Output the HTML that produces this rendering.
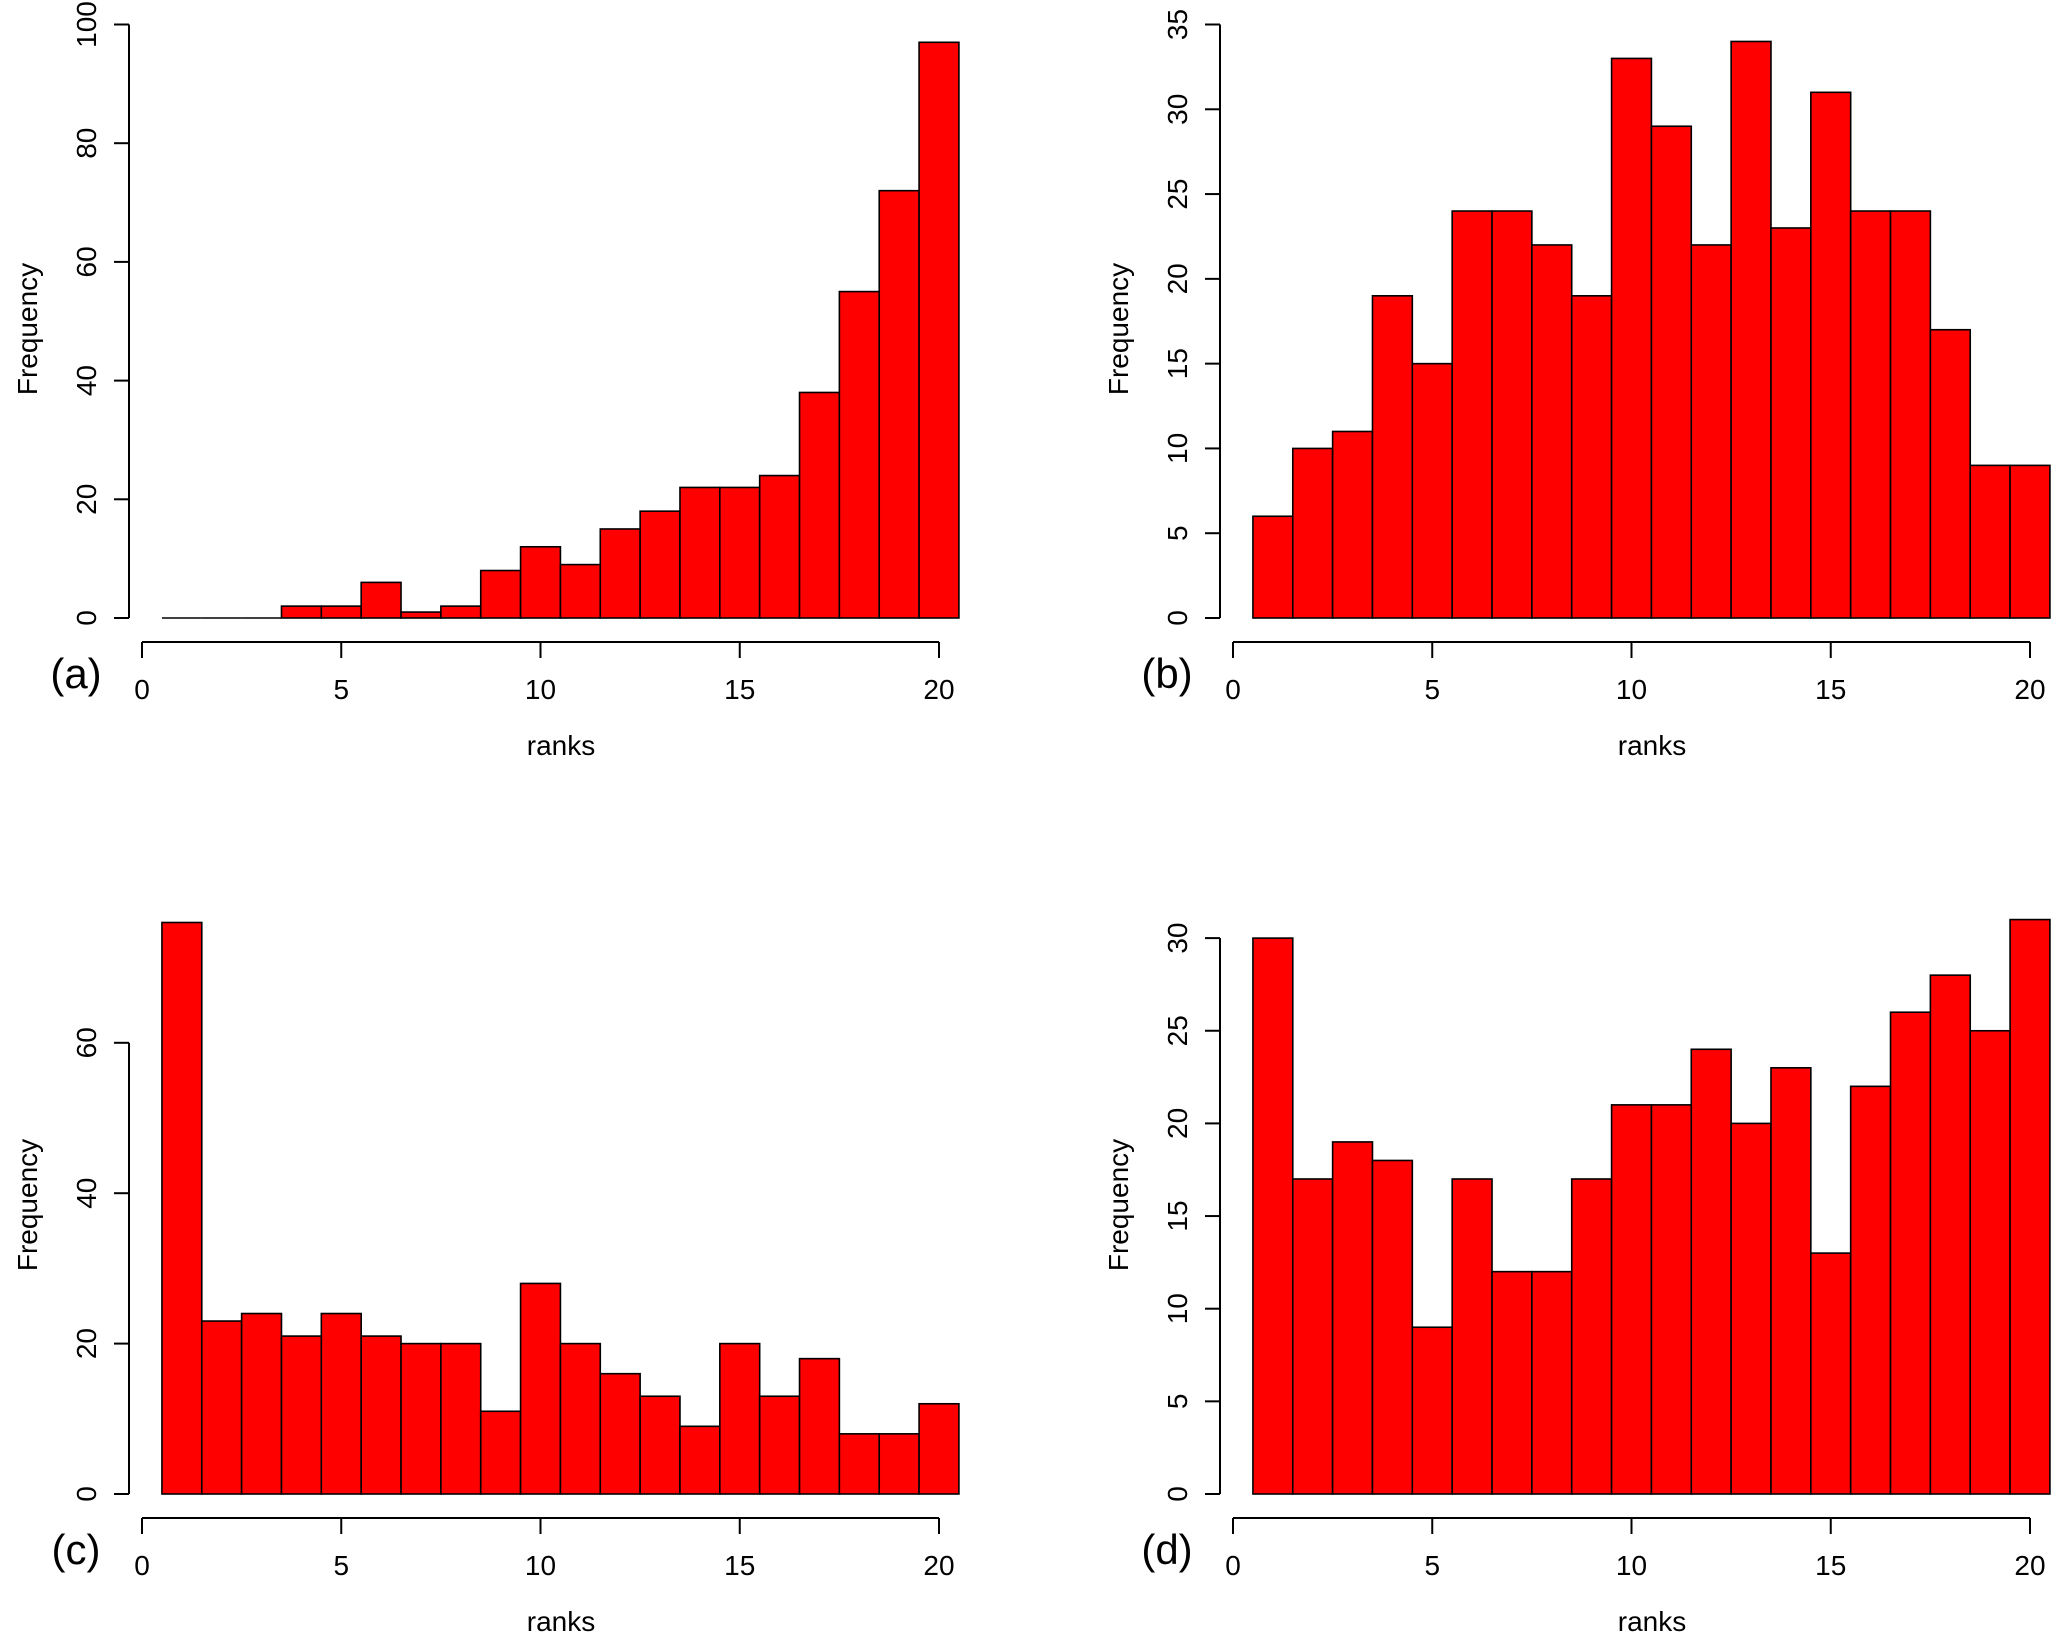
<!DOCTYPE html>
<html><head><meta charset="utf-8"><style>
html,body{margin:0;padding:0;background:#fff;}
svg{display:block;font-family:"Liberation Sans",Arial,sans-serif;}
</style></head><body>
<svg id="chart" width="2067" height="1641" viewBox="0 0 2067 1641"></svg>
<script>
const ranks = [1,2,3,4,5,6,7,8,9,10,11,12,13,14,15,16,17,18,19,20];
const countsA = [0,0,0,2,2,6,1,2,8,12,9,15,18,22,22,24,38,55,72,97];
const countsB = [6,10,11,19,15,24,24,22,19,33,29,22,34,23,31,24,24,17,9,9];
const countsC = [76,23,24,21,24,21,20,20,11,28,20,16,13,9,20,13,18,8,8,12];
const countsD = [30,17,19,18,9,17,12,12,17,21,21,24,20,23,13,22,26,28,25,31];
const xTicks = [0,5,10,15,20];
const yTicksA = [0,20,40,60,80,100];
const yTicksB = [0,5,10,15,20,25,30,35];
const yTicksC = [0,20,40,60];
const yTicksD = [0,5,10,15,20,25,30];

const NS = "http://www.w3.org/2000/svg";
const svg = document.getElementById('chart');
function mk(tag, attrs, parent){
  const e = document.createElementNS(NS, tag);
  for (const k in attrs) e.setAttribute(k, attrs[k]);
  (parent||svg).appendChild(e);
  return e;
}
const panels = [
  {id:'a', counts:countsA, yt:yTicksA, ox:0, oy:0, unit:(618-24.5)/100},
  {id:'b', counts:countsB, yt:yTicksB, ox:1091, oy:0, unit:(618-24.5)/35},
  {id:'c', counts:countsC, yt:yTicksC, ox:0, oy:876, unit:7.52},
  {id:'d', counts:countsD, yt:yTicksD, ox:1091, oy:876, unit:18.53}
];
panels.forEach(p => {
  const g = mk('g', {});
  
  
  const y0 = 618 + p.oy;
  const unit = p.unit;
  const xs = v => 142 + p.ox + v*39.85;
  const ys = v => y0 - v*unit;
  ranks.forEach((r,i) => {
    const c = p.counts[i];
    if (c === 0) {
      const l = mk('line', {x1:xs(r-0.5), x2:xs(r+0.5), y1:y0, y2:y0, stroke:'#000', 'stroke-width':1.6}, g);
      
      
      return;
    }
    const b = mk('rect', {x:xs(r-0.5), y:ys(c), width:39.85, height:c*unit, fill:'#ff0000', stroke:'#000', 'stroke-width':1.6}, g);
    
    
  });
  const ya = mk('g', {}, g);
  
  
  const yAxX = 129 + p.ox;
  mk('line', {x1:yAxX, x2:yAxX, y1:ys(p.yt[0]), y2:ys(p.yt[p.yt.length-1]), stroke:'#000','stroke-width':2}, ya);
  p.yt.forEach(t => {
    mk('line', {x1:yAxX-15, x2:yAxX, y1:ys(t), y2:ys(t), stroke:'#000','stroke-width':2}, ya);
    const tx = mk('text', {x:0, y:0, 'font-size':28, 'text-anchor':'middle', transform:`translate(${86+p.ox},${ys(t)}) rotate(-90)`, dy:'0.36em'}, ya);
    tx.textContent = t;
  });
  const xa = mk('g', {}, g);
  
  
  const xAxY = 642 + p.oy;
  mk('line', {x1:xs(xTicks[0]), x2:xs(xTicks[xTicks.length-1]), y1:xAxY, y2:xAxY, stroke:'#000','stroke-width':2}, xa);
  xTicks.forEach(t => {
    mk('line', {x1:xs(t), x2:xs(t), y1:xAxY, y2:xAxY+16, stroke:'#000','stroke-width':2}, xa);
    const tx = mk('text', {x:xs(t), y:699+p.oy, 'font-size':28, 'text-anchor':'middle'}, xa);
    tx.textContent = t;
  });
  const xl = mk('text', {x:561+p.ox, y:755+p.oy, 'font-size':28, 'text-anchor':'middle'}, g);
  xl.textContent = 'ranks';
  
  
  const yl = mk('text', {x:0, y:0, 'font-size':28, 'text-anchor':'middle', transform:`translate(${27+p.ox},${329+p.oy}) rotate(-90)`, dy:'0.36em'}, g);
  yl.textContent = 'Frequency';
  
  
  const pl = mk('text', {x:76+p.ox, y:688+p.oy, 'font-size':42, 'text-anchor':'middle'}, g);
  pl.textContent = '(' + p.id + ')';
  
  
});
</script>
</body></html>
